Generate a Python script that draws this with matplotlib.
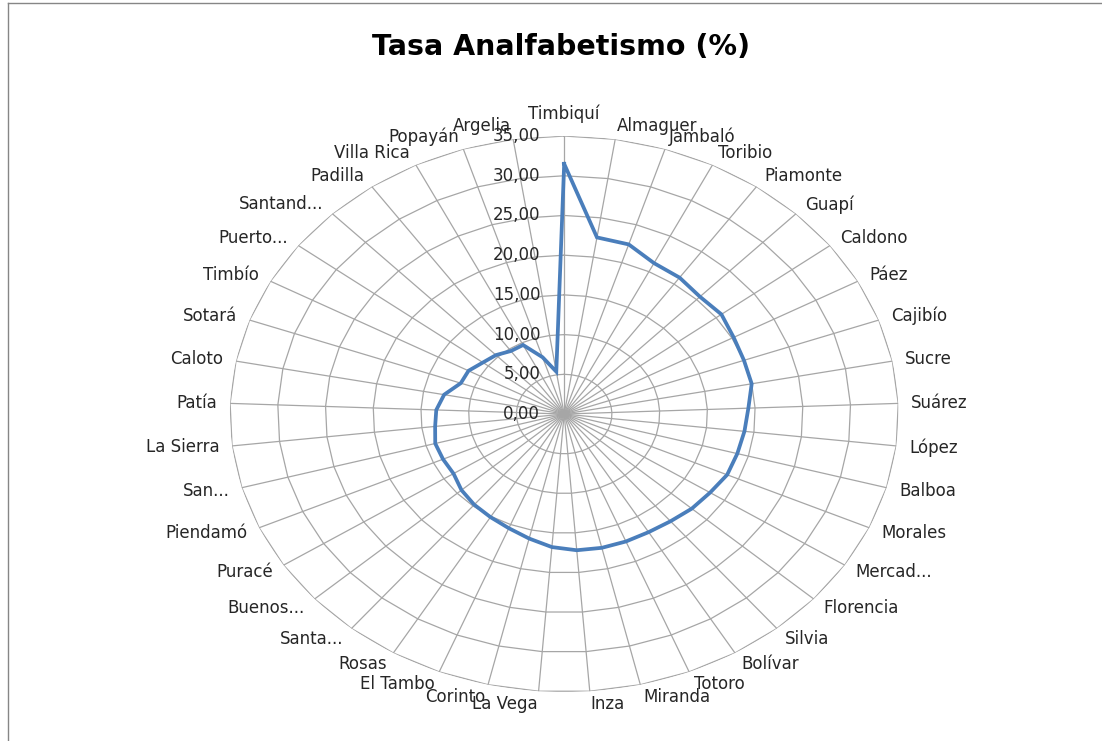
import numpy as np
import matplotlib.pyplot as plt
from matplotlib.lines import Line2D

# municipios, clockwise from the top
categories = ['Timbiquí', 'Almaguer', 'Jambaló', 'Toribio', 'Piamonte', 'Guapí',
              'Caldono', 'Páez', 'Cajibío', 'Sucre', 'Suárez', 'López', 'Balboa',
              'Morales', 'Mercad...', 'Florencia', 'Silvia', 'Bolívar', 'Totoro',
              'Miranda', 'Inza', 'La Vega', 'Corinto', 'El Tambo', 'Rosas', 'Santa...',
              'Buenos...', 'Puracé', 'Piendamó', 'San...', 'La Sierra', 'Patía',
              'Caloto', 'Sotará', 'Timbío', 'Puerto...', 'Santand...', 'Padilla',
              'Villa Rica', 'Popayán', 'Argelia']
values = [31.5, 22.5, 22.4, 21.2, 21.0, 20.5,
          20.7, 20.2, 20.0, 20.0, 19.3, 19.0, 18.8,
          18.7, 18.2, 17.9, 17.5, 17.3, 17.3,
          17.3, 17.2, 16.8, 16.1, 15.5, 15.1, 14.8,
          14.4, 13.8, 13.9, 14.0, 13.6, 13.4,
          12.8, 11.5, 11.4, 10.7, 10.3, 9.7,
          9.7, 7.5, 5.4]
ring_values = [0, 5, 10, 15, 20, 25, 30, 35]
ring_labels = ['0,00', '5,00', '10,00', '15,00', '20,00', '25,00', '30,00', '35,00']

GRID = '#a6a6a6'
LINE = '#4a7ebb'

fig = plt.figure(figsize=(11.02, 7.41), dpi=100)
fig.patch.set_facecolor('white')

# excel stretched the radar horizontally, so let the polar axes fill a wide box
ax = fig.add_axes([0.2086, 0.0661, 0.6067, 0.7503], projection='polar')
ax.set_aspect('auto')
ax.set_theta_zero_location('N')
ax.set_theta_direction(-1)
ax.set_ylim(0, 35)
ax.grid(False)
ax.spines['polar'].set_visible(False)
ax.set_xticks([])
ax.set_yticks([])

n = len(categories)
theta = np.arange(n) * 2 * np.pi / n
theta_closed = np.append(theta, theta[0])

# polygon rings
for v in ring_values[1:]:
    ax.plot(theta_closed, [v] * (n + 1), color=GRID, lw=0.9, zorder=1)
# spokes
for t in theta:
    ax.plot([t, t], [0, ring_values[-1]], color=GRID, lw=0.9, zorder=1)

vals_closed = values + values[:1]
ax.plot(theta_closed, vals_closed, color=LINE, lw=2.7, zorder=3, solid_joinstyle='miter')

# category labels around the outside
off = 13
for t, cat in zip(theta, categories):
    s, c = np.sin(t), np.cos(t)
    if abs(s) < 0.01:
        ha = 'center'
    elif s > 0:
        ha = 'left'
    else:
        ha = 'right'
    va = 'center'
    if abs(s) < 0.01:
        va = 'bottom' if c > 0 else 'top'
    ax.annotate(cat, xy=(t, ring_values[-1]), xytext=(off * s, off * c),
                textcoords='offset pixels', ha=ha, va=va, fontsize=12,
                color='#262626', annotation_clip=False, zorder=4)

# value labels along the top spoke
for v, lab in zip(ring_values, ring_labels):
    ax.annotate(lab, xy=(0, v), xytext=(-24, 0), textcoords='offset pixels',
                ha='right', va='center', fontsize=12, color='#262626',
                annotation_clip=False, zorder=4)

fig.text(0.509, 1 - 47 / 741, 'Tasa Analfabetismo (%)', ha='center', va='center',
         fontsize=20.5, fontweight='bold', color='black')

# chart area border
fig.add_artist(Line2D([8 / 1102, 8 / 1102], [0, 1 - 3 / 741], transform=fig.transFigure,
                      color='#868686', lw=1))
fig.add_artist(Line2D([8 / 1102, 1], [1 - 3 / 741, 1 - 3 / 741], transform=fig.transFigure,
                      color='#868686', lw=1))

plt.savefig('out.png', dpi=100)
plt.close()
